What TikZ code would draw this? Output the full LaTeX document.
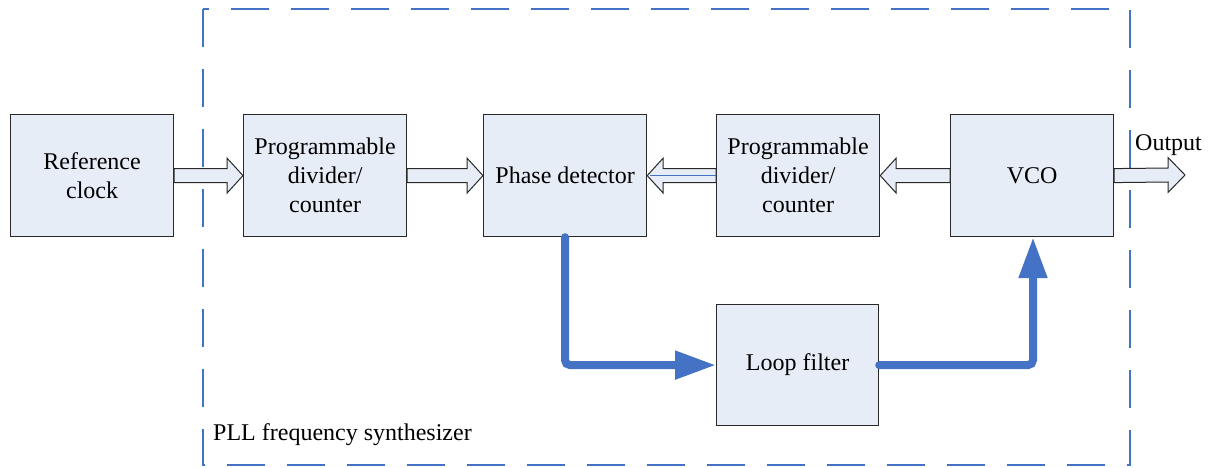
\documentclass[tikz,border=0pt]{standalone}
\usepackage{fontspec}
\setmainfont{Liberation Serif}
\usetikzlibrary{arrows.meta,calc}
\definecolor{pllblue}{RGB}{68,114,196}
\definecolor{boxfill}{RGB}{231,237,247}
\definecolor{boxline}{RGB}{40,40,40}
\tikzset{
  blockbox/.style={draw=boxline, line width=1.2pt, fill=boxfill, minimum width=163pt, minimum height=122pt, inner sep=0pt, align=center, font=\fontsize{24pt}{29pt}\selectfont, anchor=north west},
  hollow/.style={draw=boxline, line width=1pt, fill=boxfill, line join=miter},
  thickflow/.style={draw=pllblue, line width=8pt, rounded corners=5pt, line cap=round, -{Triangle[length=41pt,width=27pt]}},
  labeltext/.style={font=\fontsize{24pt}{29pt}\selectfont, inner sep=0pt},
}
% hollow arrow: #1 start coordinate, #2 tip coordinate, #3 head length (signed)
\newcommand{\hollowarrow}[3]{%
  \path[hollow] ($(#1)+(0,-7)$) -- ($(#2)+(#3,-7)$) -- ($(#2)+(#3,-17.5)$) -- (#2)
    -- ($(#2)+(#3,17.5)$) -- ($(#2)+(#3,7)$) -- ($(#1)+(0,7)$) -- cycle;}
\begin{document}
\begin{tikzpicture}[x=1pt,y=-1pt]
\useasboundingbox (0,0) rectangle (1212,468);
% dashed frame
\draw[pllblue, line width=2.5pt, dash pattern=on 38pt off 22pt] (203,9) rectangle (1130,465);
% blocks
\node[blockbox] (ref) at (10,114) {Reference\\clock};
\node[blockbox] (div1) at (243,114) {Programmable\\divider/\\counter};
\node[blockbox] (pd) at (483,114) {Phase detector};
\node[blockbox] (div2) at (716,114) {Programmable\\divider/\\counter};
\node[blockbox] (vco) at (950,114) {VCO};
\node[blockbox, minimum width=162pt, minimum height=121pt] (lf) at (716,304) {Loop filter};
\coordinate (out) at (1185,175);
% hollow arrows
\hollowarrow{ref.east}{div1.west}{-16}
\hollowarrow{div1.east}{pd.west}{-16}
\hollowarrow{div2.west}{pd.east}{16}
\draw[pllblue, line width=1pt] (div2.west) -- ($(pd.east)+(3,0)$);
\hollowarrow{vco.west}{div2.east}{16}
\hollowarrow{vco.east}{out}{-17}
\node[labeltext, anchor=south west] (outlbl) at (1135,156) {Output};
% thick loop connectors
\draw[thickflow] ($(pd.south west)+(82,0)$) |- (lf.west);
\draw[thickflow] (lf.east) -| ($(vco.south west)+(83,0)$);
% frame label
\node[labeltext, anchor=base west] (pll) at (213,440) {PLL frequency synthesizer};
\end{tikzpicture}
\end{document}
